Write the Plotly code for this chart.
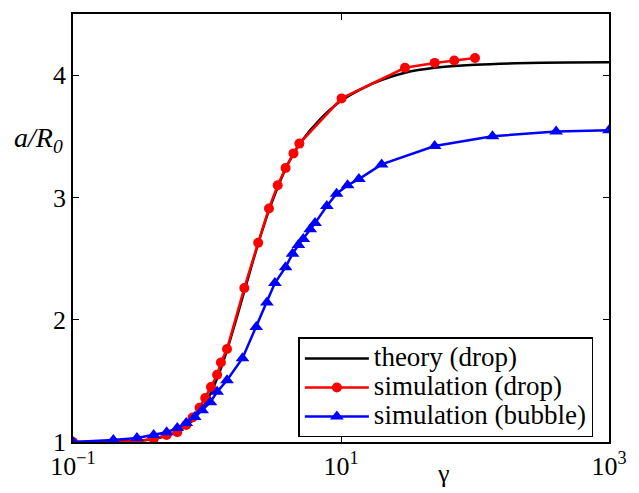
import plotly.graph_objects as go

# theory (drop)
theory_gamma = [0.1, 0.2, 0.3, 0.4, 0.5, 0.6, 0.7, 0.8, 0.9, 1.0, 1.2, 1.4, 1.7, 2.0, 2.5, 3.0,
                4.0, 5.0, 7.0, 10, 15, 20, 30, 50, 100, 200, 500, 1000]
theory_a = [1.0, 1.003, 1.01, 1.025, 1.05, 1.085, 1.13, 1.19, 1.26, 1.34, 1.53, 1.74, 2.05, 2.32,
            2.68, 2.94, 3.27, 3.45, 3.64, 3.79, 3.90, 3.96, 4.02, 4.06, 4.085, 4.097, 4.103, 4.105]

# simulation (drop)
drop_gamma = [0.1, 0.2, 0.3, 0.4, 0.5, 0.6, 0.7, 0.78, 0.88, 0.97, 1.07, 1.19, 1.27, 1.41, 1.9,
              2.41, 2.9, 3.37, 3.86, 4.42, 4.89, 10.1, 30, 50, 70, 100]
drop_a = [1.0, 1.0, 1.008, 1.024, 1.057, 1.08, 1.14, 1.2, 1.28, 1.36, 1.45, 1.55, 1.65, 1.76, 2.26,
          2.63, 2.91, 3.1, 3.24, 3.36, 3.44, 3.81, 4.06, 4.1, 4.12, 4.14]

# simulation (bubble)
bubble_gamma = [0.1, 0.2, 0.3, 0.4, 0.5, 0.6, 0.7, 0.81, 0.92, 1.06, 1.19, 1.41, 1.84, 2.33, 2.8,
                3.21, 3.86, 4.35, 4.81, 5.23, 5.89, 6.4, 7.84, 9.27, 11.2, 13.6, 20.1, 50, 135,
                403, 1000]
bubble_a = [1.0, 1.016, 1.033, 1.057, 1.08, 1.114, 1.155, 1.204, 1.26, 1.326, 1.41, 1.505, 1.685,
            1.94, 2.14, 2.3, 2.43, 2.54, 2.61, 2.66, 2.74, 2.79, 2.93, 3.03, 3.1, 3.15, 3.27,
            3.42, 3.5, 3.54, 3.55]

series_names = ["theory (drop)", "simulation (drop)", "simulation (bubble)"]

x_tickvals = [0.1, 10, 1000]
x_ticktext = ["10<sup>−1</sup>", "10<sup>1</sup>", "10<sup>3</sup>"]
y_tickvals = [1, 2, 3, 4]

FONT = "'Liberation Serif', 'Times New Roman', Times, 'DejaVu Serif', serif"


def big(name):
    return "<span style='font-size:27px'>" + name + "</span>"


fig = go.Figure()
fig.add_trace(go.Scatter(x=theory_gamma, y=theory_a, mode="lines", name=big(series_names[0]),
                         line=dict(color="black", width=2.5, shape="spline", smoothing=0.8)))
fig.add_trace(go.Scatter(x=drop_gamma, y=drop_a, mode="lines+markers", name=big(series_names[1]),
                         line=dict(color="#ff0000", width=2.5),
                         marker=dict(symbol="circle", size=10, color="#ff0000")))
fig.add_trace(go.Scatter(x=bubble_gamma, y=bubble_a, mode="lines+markers", name=big(series_names[2]),
                         line=dict(color="#0000ff", width=2.5),
                         marker=dict(symbol="triangle-up", size=12, color="#0000ff")))

fig.update_layout(
    width=639, height=493,
    margin=dict(l=73, r=19, t=12, b=51),
    paper_bgcolor="white", plot_bgcolor="white",
    font=dict(family=FONT, size=24, color="black"),
    showlegend=True,
    legend=dict(x=(303 - 73) / 547, y=(442 - 337) / 430, xanchor="left", yanchor="top",
                bordercolor="black", borderwidth=1.5, bgcolor="white",
                font=dict(family=FONT, size=20), tracegroupgap=0, itemwidth=64),
    xaxis=dict(type="log", range=[-1, 3], tickvals=x_tickvals, ticktext=x_ticktext,
               ticks="inside", ticklen=6, tickcolor="black", showline=True, linecolor="black",
               linewidth=1.5, mirror="ticks", showgrid=False, zeroline=False,
               tickfont=dict(family=FONT, size=26)),
    yaxis=dict(range=[1, 4.5], tickvals=y_tickvals, ticks="inside", ticklen=6, tickcolor="black",
               showline=True, linecolor="black", linewidth=1.5, mirror="ticks", showgrid=False,
               zeroline=False, tickfont=dict(family=FONT, size=26)),
    annotations=[
        dict(text="<i>a/R<sub>0</sub></i>", x=(38 - 73) / 547, y=(442 - 138) / 430,
             xref="paper", yref="paper", xanchor="center", yanchor="middle",
             showarrow=False, font=dict(family=FONT, size=28)),
        dict(text="γ", xref="paper", yref="paper", x=(451 - 73) / 547, y=-32 / 430,
             xanchor="center", yanchor="middle", showarrow=False, font=dict(family=FONT, size=26)),
    ],
)

fig.write_html("out.html")
